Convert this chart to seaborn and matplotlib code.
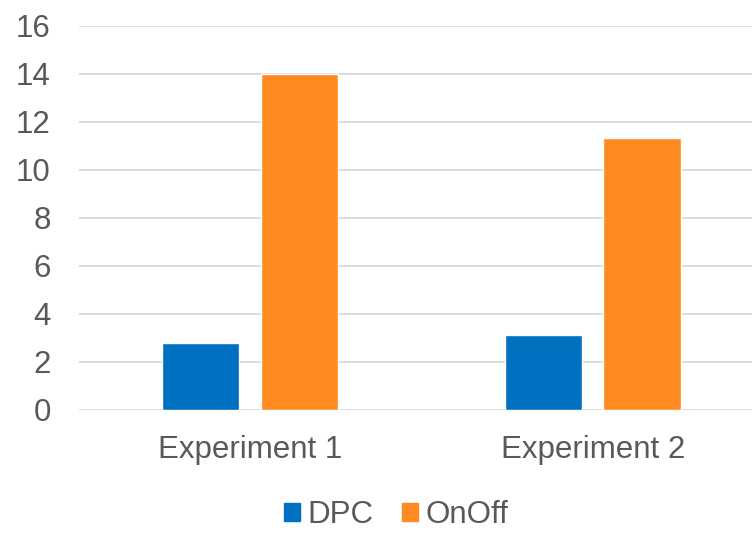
import seaborn as sns
import pandas as pd
import matplotlib.pyplot as plt

# valores
experiments = ["Experiment 1", "Experiment 2"]
methods = ["DPC", "OnOff"]
dpc_values = [2.78, 3.12]
onoff_values = [14.0, 11.32]

df = pd.DataFrame({
    "experiment": experiments * 2,
    "method": ["DPC"] * 2 + ["OnOff"] * 2,
    "value": dpc_values + onoff_values,
})

sns.set_theme(style="white")
plt.rcParams['font.family'] = ['Liberation Sans', 'DejaVu Sans']

gris = "#595959"
colores = {"DPC": "#0070C0", "OnOff": "#FF8A22"}

fig = plt.figure(figsize=(7.52, 5.33), dpi=100)
ax = fig.add_axes([0.1044, 0.2308, 0.912, 0.7205])

sns.barplot(data=df, x="experiment", y="value", hue="method", hue_order=methods,
            palette=colores, width=0.574, gap=0.215, saturation=1, ax=ax,
            errorbar=None, legend=False)

ax.set_ylim(0, 16)
ax.set_yticks(range(0, 17, 2))
ax.yaxis.grid(True, color="#D9D9D9", linewidth=1.3)
ax.set_axisbelow(True)
for s in ax.spines.values():
    s.set_visible(False)
ax.set_xlabel("")
ax.set_ylabel("")
ax.tick_params(axis="both", length=0, labelsize=22.5, labelcolor=gris)
ax.tick_params(axis="x", pad=18)
ax.tick_params(axis="y", pad=20)

# leyenda con cuadrados, centrada abajo
handles = [plt.Rectangle((0, 0), 1, 1, color=colores[m]) for m in methods]
leg = fig.legend(handles, methods, loc="center", bbox_to_anchor=(0.527, 0.034), ncol=2,
                 frameon=False, fontsize=22.5, handlelength=0.5, handleheight=0.5,
                 handletextpad=0.25, columnspacing=0.9, borderpad=0.1)
for t in leg.get_texts():
    t.set_color(gris)

fig.savefig("out.png", dpi=100)
